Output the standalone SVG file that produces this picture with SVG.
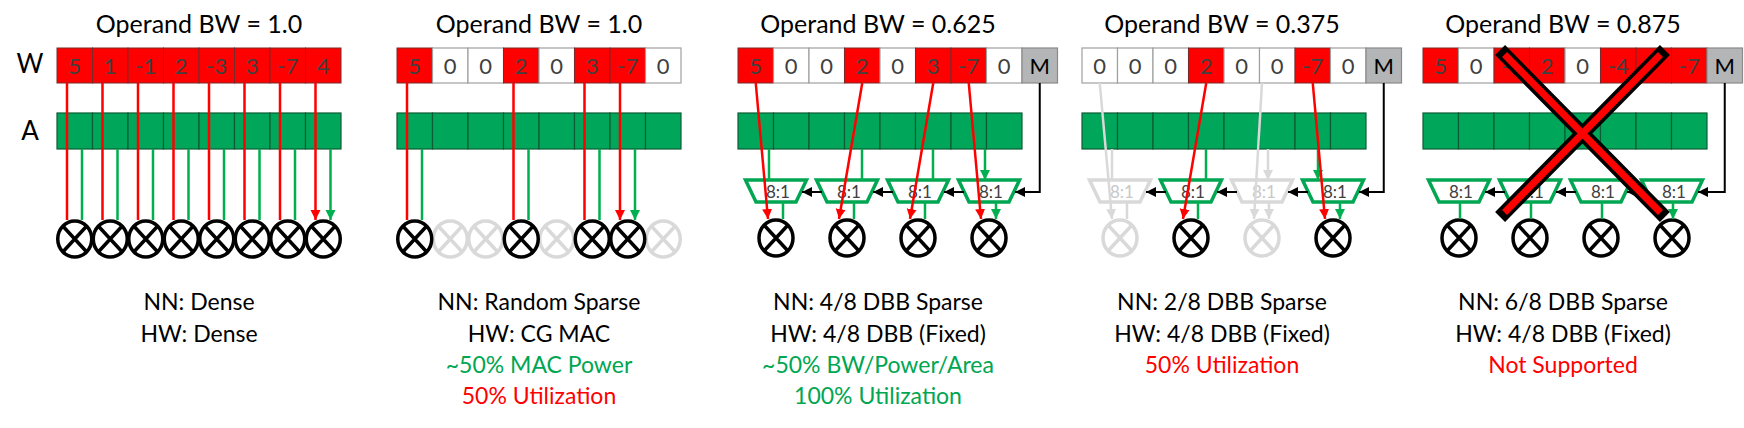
<svg xmlns="http://www.w3.org/2000/svg" width="1744" height="428" viewBox="0 0 1744 428">
<style>
text{font-family:Lato,"Open Sans","Liberation Sans",sans-serif}
.t{font-size:25px;fill:#000;text-anchor:middle}
.lb{font-size:26px;fill:#000;text-anchor:middle}
.v{font-size:22px;fill:#404040;text-anchor:middle}
.r{fill:#ff0000;stroke:#7a2a2a;stroke-width:1}
.z{fill:#fff;stroke:#a0a0a0;stroke-width:1.2}
.m{fill:#b3b5b7;stroke:#8a8a8a;stroke-width:1.2}
.a{fill:#00a65a;stroke:#0d5c33;stroke-width:1.2}
.c{fill:none;stroke:#000;stroke-width:3.5}
.cg{fill:none;stroke:#d9d9d9;stroke-width:3.5}
.mx{fill:#fff;stroke:#00a651;stroke-width:3.5;stroke-linejoin:miter}
.mxg{fill:#fff;stroke:#d9d9d9;stroke-width:3.5}
.mt{font-size:17px;fill:#404040;text-anchor:middle}
.mtg{font-size:17px;fill:#c8c8c8;text-anchor:middle}
.ar{stroke:#ff0000;stroke-width:2.5;fill:none;marker-end:url(#mr)}
.ag{stroke:#00b050;stroke-width:2.5;fill:none;marker-end:url(#mg)}
.agr{stroke:#d9d9d9;stroke-width:2.5;fill:none;marker-end:url(#mgr)}
.ab{stroke:#000;stroke-width:2;fill:none;marker-end:url(#mb)}
.bt{font-size:23px;text-anchor:middle;fill:#000}
.gt{fill:#00a651}
.rt{fill:#ff0000}
</style>
<defs>
<marker id="mr" markerUnits="userSpaceOnUse" markerWidth="12" markerHeight="12" refX="10" refY="5" orient="auto"><path d="M0,0 L10,5 L0,10 Z" fill="#ff0000"/></marker>
<marker id="mg" markerUnits="userSpaceOnUse" markerWidth="12" markerHeight="12" refX="10" refY="5" orient="auto"><path d="M0,0 L10,5 L0,10 Z" fill="#00b050"/></marker>
<marker id="mgr" markerUnits="userSpaceOnUse" markerWidth="12" markerHeight="12" refX="10" refY="5" orient="auto"><path d="M0,0 L10,5 L0,10 Z" fill="#d9d9d9"/></marker>
<marker id="mb" markerUnits="userSpaceOnUse" markerWidth="12" markerHeight="12" refX="10" refY="5" orient="auto"><path d="M0,0 L10,5 L0,10 Z" fill="#000"/></marker>
<g id="mul"><ellipse cx="0" cy="0" rx="17" ry="18"/><path d="M-12,-13 L12,13 M12,-13 L-12,13"/></g>
</defs>

<text class="lb" x="30" y="73">W</text>
<text class="lb" x="30" y="140">A</text>

<!-- Panel 1 -->
<g id="panel1">
<text class="t" x="199" y="33">Operand BW = 1.0</text>
<g>
<rect class="r" x="57" y="48" width="35.5" height="35"/><rect class="r" x="92.5" y="48" width="35.5" height="35"/><rect class="r" x="128" y="48" width="35.5" height="35"/><rect class="r" x="163.5" y="48" width="35.5" height="35"/><rect class="r" x="199" y="48" width="35.5" height="35"/><rect class="r" x="234.5" y="48" width="35.5" height="35"/><rect class="r" x="270" y="48" width="35.5" height="35"/><rect class="r" x="305.5" y="48" width="35.5" height="35"/>
<text class="v" x="74.75" y="74">5</text><text class="v" x="110.25" y="74">1</text><text class="v" x="145.75" y="74">-1</text><text class="v" x="181.25" y="74">2</text><text class="v" x="216.75" y="74">-3</text><text class="v" x="252.25" y="74">3</text><text class="v" x="287.75" y="74">-7</text><text class="v" x="323.25" y="74">4</text>
</g>
<g>
<rect class="a" x="57" y="113" width="35.5" height="36"/><rect class="a" x="92.5" y="113" width="35.5" height="36"/><rect class="a" x="128" y="113" width="35.5" height="36"/><rect class="a" x="163.5" y="113" width="35.5" height="36"/><rect class="a" x="199" y="113" width="35.5" height="36"/><rect class="a" x="234.5" y="113" width="35.5" height="36"/><rect class="a" x="270" y="113" width="35.5" height="36"/><rect class="a" x="305.5" y="113" width="35.5" height="36"/>
</g>
<g class="c">
<use href="#mul" x="74.75" y="239"/><use href="#mul" x="110.25" y="239"/><use href="#mul" x="145.75" y="239"/><use href="#mul" x="181.25" y="239"/><use href="#mul" x="216.75" y="239"/><use href="#mul" x="252.25" y="239"/><use href="#mul" x="287.75" y="239"/><use href="#mul" x="323.25" y="239"/>
</g>
<text class="bt" x="199" y="310">NN: Dense</text>
<text class="bt" x="199" y="342">HW: Dense</text>
</g>

<!-- Panel 2 -->
<g id="panel2">
<text class="t" x="539" y="33">Operand BW = 1.0</text>
<rect class="r" x="397" y="48" width="35.5" height="35"/><rect class="z" x="432.5" y="48" width="35.5" height="35"/><rect class="z" x="468" y="48" width="35.5" height="35"/><rect class="r" x="503.5" y="48" width="35.5" height="35"/><rect class="z" x="539" y="48" width="35.5" height="35"/><rect class="r" x="574.5" y="48" width="35.5" height="35"/><rect class="r" x="610" y="48" width="35.5" height="35"/><rect class="z" x="645.5" y="48" width="35.5" height="35"/>
<text class="v" x="414.75" y="74">5</text><text class="v" x="450.25" y="74">0</text><text class="v" x="485.75" y="74">0</text><text class="v" x="521.25" y="74">2</text><text class="v" x="556.75" y="74">0</text><text class="v" x="592.25" y="74">3</text><text class="v" x="627.75" y="74">-7</text><text class="v" x="663.25" y="74">0</text>
<rect class="a" x="397" y="113" width="35.5" height="36"/><rect class="a" x="432.5" y="113" width="35.5" height="36"/><rect class="a" x="468" y="113" width="35.5" height="36"/><rect class="a" x="503.5" y="113" width="35.5" height="36"/><rect class="a" x="539" y="113" width="35.5" height="36"/><rect class="a" x="574.5" y="113" width="35.5" height="36"/><rect class="a" x="610" y="113" width="35.5" height="36"/><rect class="a" x="645.5" y="113" width="35.5" height="36"/>
<g class="cg"><use href="#mul" x="450.25" y="239"/><use href="#mul" x="485.75" y="239"/><use href="#mul" x="556.75" y="239"/><use href="#mul" x="663.25" y="239"/></g>
<g class="c"><use href="#mul" x="414.75" y="239"/><use href="#mul" x="521.25" y="239"/><use href="#mul" x="592.25" y="239"/><use href="#mul" x="627.75" y="239"/></g>
<text class="bt" x="539" y="310">NN: Random Sparse</text>
<text class="bt" x="539" y="342">HW: CG MAC</text>
<text class="bt gt" x="539" y="373">~50% MAC Power</text>
<text class="bt rt" x="539" y="404">50% Utilization</text>
</g>

<!-- Panel 3 -->
<g id="panel3">
<text class="t" x="878" y="33">Operand BW = 0.625</text>
<rect class="r" x="738" y="48" width="35.5" height="35"/><rect class="z" x="773.5" y="48" width="35.5" height="35"/><rect class="z" x="809" y="48" width="35.5" height="35"/><rect class="r" x="844.5" y="48" width="35.5" height="35"/><rect class="z" x="880" y="48" width="35.5" height="35"/><rect class="r" x="915.5" y="48" width="35.5" height="35"/><rect class="r" x="951" y="48" width="35.5" height="35"/><rect class="z" x="986.5" y="48" width="35.5" height="35"/><rect class="m" x="1022" y="48" width="35.5" height="35"/>
<text class="v" x="755.75" y="74">5</text><text class="v" x="791.25" y="74">0</text><text class="v" x="826.75" y="74">0</text><text class="v" x="862.25" y="74">2</text><text class="v" x="897.75" y="74">0</text><text class="v" x="933.25" y="74">3</text><text class="v" x="968.75" y="74">-7</text><text class="v" x="1004.25" y="74">0</text><text class="v" x="1039.75" y="74" style="fill:#000">M</text>
<rect class="a" x="738" y="113" width="35.5" height="36"/><rect class="a" x="773.5" y="113" width="35.5" height="36"/><rect class="a" x="809" y="113" width="35.5" height="36"/><rect class="a" x="844.5" y="113" width="35.5" height="36"/><rect class="a" x="880" y="113" width="35.5" height="36"/><rect class="a" x="915.5" y="113" width="35.5" height="36"/><rect class="a" x="951" y="113" width="35.5" height="36"/><rect class="a" x="986.5" y="113" width="35.5" height="36"/>
<path class="mx" d="M745.5,180 H806.5 L796,202 H756 Z"/><path class="mx" d="M816.5,180 H877.5 L867,202 H827 Z"/><path class="mx" d="M887.5,180 H948.5 L938,202 H898 Z"/><path class="mx" d="M958.5,180 H1019.5 L1009,202 H969 Z"/>
<text class="mt" x="778" y="198">8:1</text><text class="mt" x="849" y="198">8:1</text><text class="mt" x="920" y="198">8:1</text><text class="mt" x="991" y="198">8:1</text>
<g class="c"><use href="#mul" x="776" y="238"/><use href="#mul" x="847" y="238"/><use href="#mul" x="918" y="238"/><use href="#mul" x="989" y="238"/></g>
<text class="bt" x="878" y="310">NN: 4/8 DBB Sparse</text>
<text class="bt" x="878" y="342">HW: 4/8 DBB (Fixed)</text>
<text class="bt gt" x="878" y="373">~50% BW/Power/Area</text>
<text class="bt gt" x="878" y="404">100% Utilization</text>
</g>

<!-- Panel 4 -->
<g id="panel4">
<text class="t" x="1222" y="33">Operand BW = 0.375</text>
<rect class="z" x="1082" y="48" width="35.5" height="35"/><rect class="z" x="1117.5" y="48" width="35.5" height="35"/><rect class="z" x="1153" y="48" width="35.5" height="35"/><rect class="r" x="1188.5" y="48" width="35.5" height="35"/><rect class="z" x="1224" y="48" width="35.5" height="35"/><rect class="z" x="1259.5" y="48" width="35.5" height="35"/><rect class="r" x="1295" y="48" width="35.5" height="35"/><rect class="z" x="1330.5" y="48" width="35.5" height="35"/><rect class="m" x="1366" y="48" width="35.5" height="35"/>
<text class="v" x="1099.75" y="74">0</text><text class="v" x="1135.25" y="74">0</text><text class="v" x="1170.75" y="74">0</text><text class="v" x="1206.25" y="74">2</text><text class="v" x="1241.75" y="74">0</text><text class="v" x="1277.25" y="74">0</text><text class="v" x="1312.75" y="74">-7</text><text class="v" x="1348.25" y="74">0</text><text class="v" x="1383.75" y="74" style="fill:#000">M</text>
<rect class="a" x="1082" y="113" width="35.5" height="36"/><rect class="a" x="1117.5" y="113" width="35.5" height="36"/><rect class="a" x="1153" y="113" width="35.5" height="36"/><rect class="a" x="1188.5" y="113" width="35.5" height="36"/><rect class="a" x="1224" y="113" width="35.5" height="36"/><rect class="a" x="1259.5" y="113" width="35.5" height="36"/><rect class="a" x="1295" y="113" width="35.5" height="36"/><rect class="a" x="1330.5" y="113" width="35.5" height="36"/>
<path class="mxg" d="M1089.5,180 H1150.5 L1140,202 H1100 Z"/><path class="mx" d="M1160.5,180 H1221.5 L1211,202 H1171 Z"/><path class="mxg" d="M1231.5,180 H1292.5 L1282,202 H1242 Z"/><path class="mx" d="M1302.5,180 H1363.5 L1353,202 H1313 Z"/>
<text class="mtg" x="1122" y="198">8:1</text><text class="mt" x="1193" y="198">8:1</text><text class="mtg" x="1264" y="198">8:1</text><text class="mt" x="1335" y="198">8:1</text>
<g class="cg"><use href="#mul" x="1120" y="238"/><use href="#mul" x="1262" y="238"/></g>
<g class="c"><use href="#mul" x="1191" y="238"/><use href="#mul" x="1333" y="238"/></g>
<text class="bt" x="1222" y="310">NN: 2/8 DBB Sparse</text>
<text class="bt" x="1222" y="342">HW: 4/8 DBB (Fixed)</text>
<text class="bt rt" x="1222" y="373">50% Utilization</text>
</g>

<!-- Panel 5 -->
<g id="panel5">
<text class="t" x="1563" y="33">Operand BW = 0.875</text>
<rect class="r" x="1423" y="48" width="35.5" height="35"/><rect class="z" x="1458.5" y="48" width="35.5" height="35"/><rect class="r" x="1494" y="48" width="35.5" height="35"/><rect class="r" x="1529.5" y="48" width="35.5" height="35"/><rect class="z" x="1565" y="48" width="35.5" height="35"/><rect class="r" x="1600.5" y="48" width="35.5" height="35"/><rect class="r" x="1636" y="48" width="35.5" height="35"/><rect class="r" x="1671.5" y="48" width="35.5" height="35"/><rect class="m" x="1707" y="48" width="35.5" height="35"/>
<text class="v" x="1440.75" y="74">5</text><text class="v" x="1476.25" y="74">0</text><text class="v" x="1511.75" y="74">-1</text><text class="v" x="1547.25" y="74">2</text><text class="v" x="1582.75" y="74">0</text><text class="v" x="1618.25" y="74">-4</text><text class="v" x="1689.25" y="74">-7</text><text class="v" x="1724.75" y="74" style="fill:#000">M</text>
<rect class="a" x="1423" y="113" width="35.5" height="36"/><rect class="a" x="1458.5" y="113" width="35.5" height="36"/><rect class="a" x="1494" y="113" width="35.5" height="36"/><rect class="a" x="1529.5" y="113" width="35.5" height="36"/><rect class="a" x="1565" y="113" width="35.5" height="36"/><rect class="a" x="1600.5" y="113" width="35.5" height="36"/><rect class="a" x="1636" y="113" width="35.5" height="36"/><rect class="a" x="1671.5" y="113" width="35.5" height="36"/>
<path class="mx" d="M1428.5,180 H1489.5 L1479,202 H1439 Z"/><path class="mx" d="M1499.5,180 H1560.5 L1550,202 H1510 Z"/><path class="mx" d="M1570.5,180 H1631.5 L1621,202 H1581 Z"/><path class="mx" d="M1641.5,180 H1702.5 L1692,202 H1652 Z"/>
<text class="mt" x="1461" y="198">8:1</text><text class="mt" x="1532" y="198">8:1</text><text class="mt" x="1603" y="198">8:1</text><text class="mt" x="1674" y="198">8:1</text>
<g class="c"><use href="#mul" x="1459" y="238"/><use href="#mul" x="1530" y="238"/><use href="#mul" x="1601" y="238"/><use href="#mul" x="1672" y="238"/></g>
<text class="bt" x="1563" y="310">NN: 6/8 DBB Sparse</text>
<text class="bt" x="1563" y="342">HW: 4/8 DBB (Fixed)</text>
<text class="bt rt" x="1563" y="373">Not Supported</text>
</g>

<g id="connectors">
<!-- panel 1 -->
<path class="ar" d="M67,83 V220 M102.5,83 V220 M138,83 V220 M173.5,83 V220 M209,83 V220 M244.5,83 V220 M280,83 V220 M315.5,83 V220"/>
<path class="ag" d="M82,149 V220 M117.5,149 V220 M153,149 V220 M188.5,149 V220 M224,149 V220 M259.5,149 V220 M295,149 V220 M330.5,149 V220"/>
<!-- panel 2 -->
<path class="ar" d="M407,83 V220 M513.5,83 V220 M584.5,83 V220 M620,83 V220"/>
<path class="ag" d="M422,149 V220 M528.5,149 V220 M599.5,149 V220 M635,149 V220"/>
<!-- panel 3 -->
<path class="ag" d="M769,149 V180 M862,149 V180 M933,149 V180 M985,149 V180"/>
<path class="ag" d="M783,202 V219 M854,202 V219 M925,202 V219 M996,202 V219"/>
<path class="ar" d="M755.75,83 L768,219"/><path class="ar" d="M862.25,83 L839,219"/><path class="ar" d="M933.25,83 L910,219"/><path class="ar" d="M968.75,83 L981,219"/>
<path class="ab" d="M1039.75,83 V192 H1015"/><path class="ab" d="M964,192 H944"/><path class="ab" d="M893,192 H873"/><path class="ab" d="M822,192 H802"/>
<!-- panel 4 -->
<path class="agr" d="M1099.75,83 L1112,219"/><path class="agr" d="M1262,83 L1254,219"/>
<path class="agr" d="M1112,149 V180 M1268,149 V180"/>
<path class="agr" d="M1127,202 V219 M1269,202 V219"/>
<path class="ag" d="M1206,149 V180 M1318,149 V180"/>
<path class="ag" d="M1198,202 V219 M1340,202 V219"/>
<path class="ar" d="M1206.25,83 L1183,219"/><path class="ar" d="M1312.75,83 L1325,219"/>
<path class="ab" d="M1383.75,83 V192 H1359"/><path class="ab" d="M1308,192 H1288"/><path class="ab" d="M1237,192 H1217"/><path class="ab" d="M1166,192 H1146"/>
<!-- panel 5 -->
<path class="ag" d="M1460,202 V219 M1531,202 V219 M1602,202 V219 M1673,202 V219"/>
<path class="ab" d="M1724.75,83 V192 H1698"/><path class="ab" d="M1647,192 H1627"/><path class="ab" d="M1576,192 H1556"/><path class="ab" d="M1505,192 H1485"/>
</g>

<g id="cross">
<path d="M1505,55 L1660,212 M1660,55 L1505,212" stroke="#000" stroke-width="14" stroke-linecap="square"/>
<path d="M1507,57 L1658,210 M1658,57 L1507,210" stroke="#ff0000" stroke-width="7" stroke-linecap="square"/>
</g>
</svg>
